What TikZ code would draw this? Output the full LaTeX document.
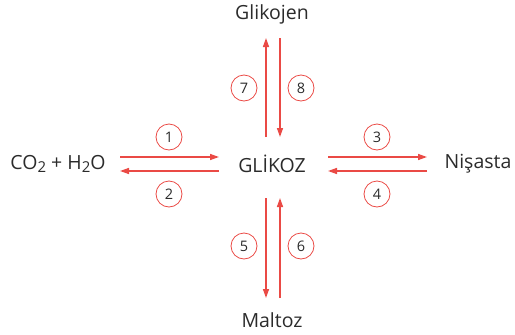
\documentclass[tikz,border=0pt]{standalone}
\usepackage{fontspec}
\setmainfont{Open Sans}
\usetikzlibrary{arrows.meta}
\definecolor{arr}{HTML}{EA4A45}
\definecolor{txt}{HTML}{2B2B2B}
\newcommand{\sbs}[1]{\raisebox{-0.35ex}{\fontsize{15}{15}\selectfont #1}}
\begin{document}
\begin{tikzpicture}[x=1pt,y=-1pt,
  lbl/.style={font=\fontsize{19.5}{21}\selectfont, text=txt, inner sep=0pt},
  num/.style={circle, draw=arr, line width=0.8pt, minimum size=26pt, inner sep=0pt, font=\fontsize{14.5}{15}\selectfont, text=txt},
  arw/.style={draw=arr, line width=1.4pt, -{Triangle[length=9pt,width=6pt]}}]
\useasboundingbox (0,0) rectangle (515,335);
\node[lbl] (gj) at (272,14) {Glikojen};
\node[lbl] (gk) at (272,164) {GLİKOZ};
\node[lbl] (mz) at (272,320) {Maltoz};
\node[lbl] (co) at (58,164) {CO\sbs{2} + H\sbs{2}O};
\node[lbl] (ns) at (478,164) {Nişasta};
% coordinates
\coordinate (l1a) at (120,157); \coordinate (l1b) at (219,157);
\coordinate (l2a) at (219,171); \coordinate (l2b) at (120,171);
\coordinate (r3a) at (328,157); \coordinate (r3b) at (427,157);
\coordinate (r4a) at (427,171); \coordinate (r4b) at (328,171);
\coordinate (t7a) at (266,137); \coordinate (t7b) at (266,38);
\coordinate (t8a) at (280,38); \coordinate (t8b) at (280,137);
\coordinate (b5a) at (266,198); \coordinate (b5b) at (266,298);
\coordinate (b6a) at (280,298); \coordinate (b6b) at (280,198);
\draw[arw] (l1a) -- (l1b);
\draw[arw] (l2a) -- (l2b);
\draw[arw] (r3a) -- (r3b);
\draw[arw] (r4a) -- (r4b);
\draw[arw] (t7a) -- (t7b);
\draw[arw] (t8a) -- (t8b);
\draw[arw] (b5a) -- (b5b);
\draw[arw] (b6a) -- (b6b);
\node[num] (n1) at (169,137) {1};
\node[num] (n2) at (169,194) {2};
\node[num] (n3) at (377,137) {3};
\node[num] (n4) at (377,194) {4};
\node[num] (n5) at (244,246) {5};
\node[num] (n6) at (301,246) {6};
\node[num] (n7) at (244,88) {7};
\node[num] (n8) at (301,88) {8};
\end{tikzpicture}
\end{document}
